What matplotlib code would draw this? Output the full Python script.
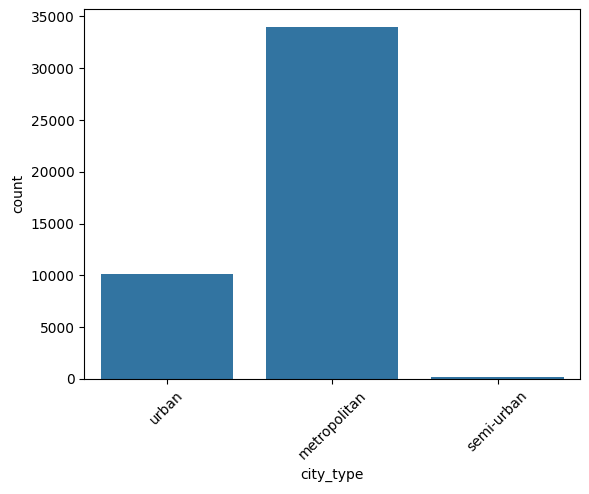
import matplotlib
matplotlib.use("Agg")
import matplotlib.pyplot as plt
import seaborn as sns
import pandas as pd

categories = ["urban", "metropolitan", "semi-urban"]
counts = [10150, 34030, 190]

df = pd.DataFrame({"city_type": categories, "count": counts})
fig = plt.figure(figsize=(5.89, 4.94), dpi=100)
ax = fig.add_axes([0.143, 0.233, 0.842, 0.749])
sns.barplot(data=df, x="city_type", y="count", color="#1f77b4", saturation=0.75, ax=ax)
ax.set_xlabel("city_type")
ax.set_ylabel("count")
plt.setp(ax.get_xticklabels(), rotation=45)
fig.savefig("out.png", dpi=100)
